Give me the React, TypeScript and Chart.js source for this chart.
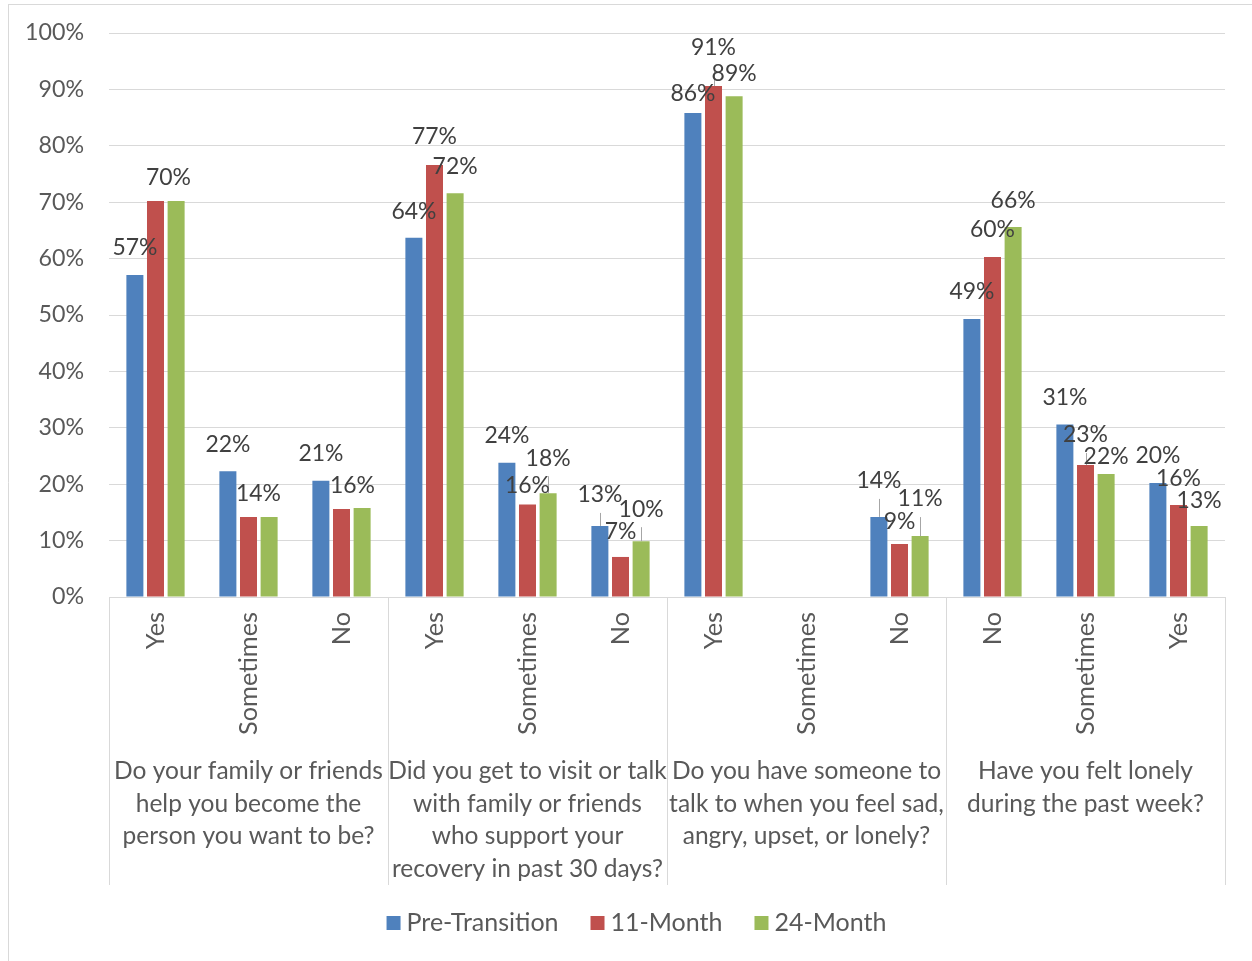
import { useEffect, useRef } from "react";
import { Chart, registerables } from "chart.js";

Chart.register(...registerables);

// ---------- data ----------
const answers = [
  "Yes", "Sometimes", "No",
  "Yes", "Sometimes", "No",
  "Yes", "Sometimes", "No",
  "No", "Sometimes", "Yes",
];
const questions = [
  ["Do your family or friends", "help you become the", "person you want to be?"],
  ["Did you get to visit or talk", "with family or friends", "who support your", "recovery in past 30 days?"],
  ["Do you have someone to", "talk to when you feel sad,", "angry, upset, or lonely?"],
  ["Have you felt lonely", "during the past week?"],
];
const seriesNames = ["Pre-Transition", "11-Month", "24-Month"];
const preTransition = [57.1, 22.3, 20.6, 63.7, 23.8, 12.6, 85.8, null, 14.2, 49.3, 30.6, 20.2];
const month11 = [70.2, 14.2, 15.6, 76.6, 16.4, 7.1, 90.6, null, 9.4, 60.3, 23.4, 16.3];
const month24 = [70.2, 14.2, 15.8, 71.6, 18.4, 9.9, 88.8, null, 10.8, 65.6, 21.8, 12.6];
const yTickValues = [0, 10, 20, 30, 40, 50, 60, 70, 80, 90, 100];

// ---------- styles ----------
const seriesColors = ["#4F81BD", "#C0504D", "#9BBB59"];
// data label nudges (vertical lift above bar top, horizontal slide); null = label hidden
const labelLift = [
  [-27, -27, -27, -26, -27, -31, -19, null, -36, -27, -27, -27],
  [-23, -23, -23, -28, -19, -25, -38, null, -22, -27, -30, -26],
  [null, null, null, -27, -35, -32, -23, null, -37, -26, -17, -25],
];
const labelSlide = [
  [0, 0, 0, 0, 0, 0, 0, 0, 0, 0, 0, 0],
  [13, 10, 11, 0, 0, 0, 0, 0, 0, 0, 0, 0],
  [0, 0, 0, 0, 0, 0, 0, 0, 0, 0, 0, 0],
];
const FAMILY = "Lato, 'Open Sans', sans-serif";
const GRID = "#d9d9d9";
const TEXT = "#595959";
const LABEL_TEXT = "#404040";

export default function App() {
  const ref = useRef<HTMLCanvasElement>(null);

  useEffect(() => {
    const canvas = ref.current!;
    const c0 = canvas.getContext("2d")!;
    const fit = (sample: string, target: number) => {
      c0.font = `100px ${FAMILY}`;
      return (100 * target) / c0.measureText(sample).width;
    };
    const tickSize = fit("100%", 59);
    const valueSize = fit("57%", 45);
    const answerSize = fit("Sometimes", 123);
    const questionSize = fit("Do your family or friends", 269);
    const legendSize = fit("Pre-Transition", 152);

    const values = [preTransition, month11, month24];

    const overlay = {
      id: "overlay",
      beforeDraw(chart: any) {
        const { ctx } = chart;
        ctx.save();
        ctx.fillStyle = "#ffffff";
        ctx.fillRect(0, 0, chart.width, chart.height);
        ctx.strokeStyle = GRID;
        ctx.lineWidth = 1;
        ctx.beginPath();
        ctx.moveTo(8, 4.5);
        ctx.lineTo(chart.width, 4.5);
        ctx.moveTo(8.5, 4);
        ctx.lineTo(8.5, chart.height);
        ctx.stroke();
        ctx.restore();
      },
      afterDatasetsDraw(chart: any) {
        const { ctx, chartArea: ca } = chart;
        const xs = chart.scales.x;
        ctx.save();

        // group separators
        const groupW = (ca.right - ca.left) / questions.length;
        ctx.strokeStyle = GRID;
        ctx.lineWidth = 1;
        ctx.beginPath();
        for (let k = 0; k <= questions.length; k++) {
          const gx = Math.round(ca.left + k * groupW) + 0.5;
          ctx.moveTo(gx, ca.bottom);
          ctx.lineTo(gx, ca.bottom + 288);
        }
        ctx.stroke();

        // rotated answer labels
        ctx.fillStyle = TEXT;
        ctx.font = `${answerSize}px ${FAMILY}`;
        ctx.textAlign = "right";
        ctx.textBaseline = "middle";
        answers.forEach((a, i) => {
          const px = xs.getPixelForValue(i);
          ctx.save();
          ctx.translate(px, ca.bottom + 15);
          ctx.rotate(-Math.PI / 2);
          ctx.fillText(a, 0, 0);
          ctx.restore();
        });

        // question labels
        ctx.font = `${questionSize}px ${FAMILY}`;
        ctx.textAlign = "center";
        questions.forEach((lines, k) => {
          const cx = ca.left + (k + 0.5) * groupW;
          lines.forEach((ln, j) => {
            ctx.fillText(ln, cx, ca.bottom + 174 + j * 32.7);
          });
        });

        // data labels with leader lines
        ctx.strokeStyle = "#a6a6a6";
        ctx.lineWidth = 1;
        values.forEach((series, d) => {
          const meta = chart.getDatasetMeta(d);
          meta.data.forEach((bar: any, i: number) => {
            const v = series[i];
            const lift = labelLift[d][i];
            if (v == null || lift == null) return;
            const ly = bar.y + lift;
            if (lift <= -30) {
              ctx.beginPath();
              ctx.moveTo(Math.round(bar.x) + 0.5, ly + 18);
              ctx.lineTo(Math.round(bar.x) + 0.5, bar.y);
              ctx.stroke();
            }
          });
        });
        ctx.fillStyle = LABEL_TEXT;
        ctx.font = `${valueSize}px ${FAMILY}`;
        ctx.textAlign = "center";
        ctx.textBaseline = "middle";
        values.forEach((series, d) => {
          const meta = chart.getDatasetMeta(d);
          meta.data.forEach((bar: any, i: number) => {
            const v = series[i];
            const lift = labelLift[d][i];
            if (v == null || lift == null) return;
            ctx.fillText(`${Math.round(v)}%`, bar.x + labelSlide[d][i], bar.y + lift);
          });
        });

        // legend
        ctx.font = `${legendSize}px ${FAMILY}`;
        ctx.textAlign = "left";
        const box = 14, gapBox = 6, gapItem = 32;
        const widths = seriesNames.map((n) => ctx.measureText(n).width);
        const total = widths.reduce((s, w) => s + box + gapBox + w, 0) + gapItem * (seriesNames.length - 1);
        let lx = 636.5 - total / 2;
        const ly = 923;
        seriesNames.forEach((n, d) => {
          ctx.fillStyle = seriesColors[d];
          ctx.fillRect(lx, ly - box / 2, box, box);
          ctx.fillStyle = TEXT;
          ctx.fillText(n, lx + box + gapBox, ly);
          lx += box + gapBox + widths[d] + gapItem;
        });

        ctx.restore();
      },
    };

    const chart = new Chart(canvas, {
      type: "bar",
      data: {
        labels: answers,
        datasets: seriesNames.map((name, d) => ({
          label: name,
          data: values[d] as any,
          backgroundColor: seriesColors[d],
          borderWidth: 0,
          categoryPercentage: 0.665,
          barPercentage: 0.825,
        })),
      },
      options: {
        responsive: false,
        animation: false,
        layout: { padding: { left: 8, right: 27, top: 33, bottom: 364 } },
        plugins: {
          legend: { display: false },
          tooltip: { enabled: false },
        },
        scales: {
          x: { display: false },
          y: {
            min: 0,
            max: 100,
            afterFit: (s: any) => {
              s.width = 101;
            },
            afterBuildTicks: (s: any) => {
              s.ticks = yTickValues.map((v) => ({ value: v }));
            },
            border: { display: false },
            grid: {
              color: GRID,
              lineWidth: 1,
              drawTicks: true,
              tickLength: 25,
              tickColor: "rgba(0,0,0,0)",
            },
            ticks: {
              padding: 0,
              color: TEXT,
              font: { family: FAMILY, size: tickSize },
              callback: (v: any) => `${v}%`,
            },
          },
        },
      },
      plugins: [overlay],
    });

    return () => chart.destroy();
  }, []);

  return (
    <canvas
      ref={ref}
      width={1252}
      height={961}
      style={{ position: "fixed", left: 0, top: 0, display: "block" }}
    />
  );
}
